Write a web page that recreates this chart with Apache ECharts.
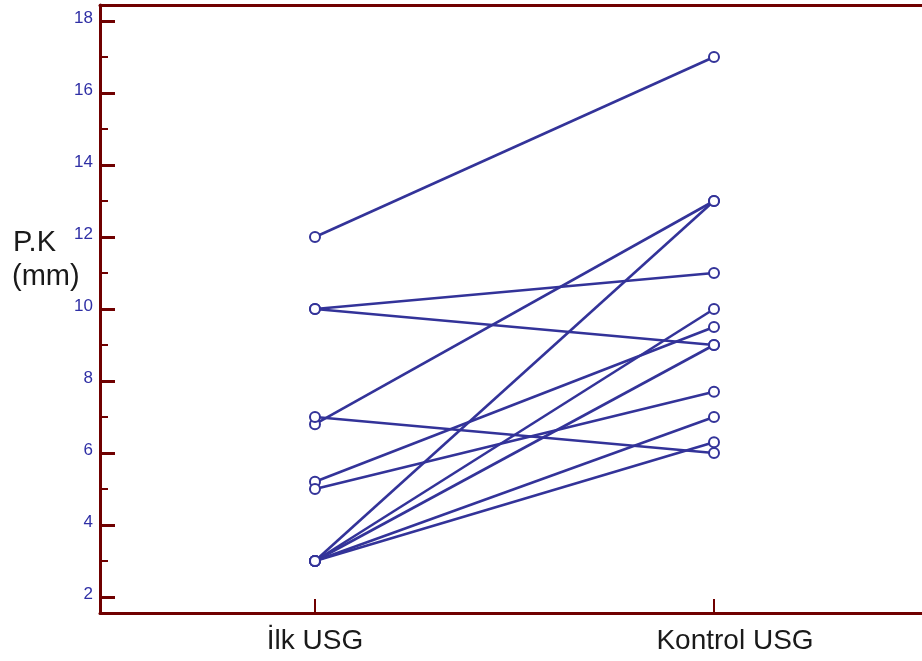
<!DOCTYPE html>
<html>
<head>
<meta charset="utf-8">
<script src="https://cdn.jsdelivr.net/npm/echarts@6/dist/echarts.min.js"></script>
<style>
  html, body { margin: 0; padding: 0; background: #fff; }
  #chart { width: 922px; height: 661px; }
</style>
</head>
<body>
<div id="chart"></div>
<script>
// Paired measurements: first scan vs. follow-up scan (mm)
const groups = ['İlk USG', 'Kontrol USG'];
const ilkUSG     = [12, 10, 10, 6.8, 7, 5.2, 5,   3,  3,  3, 3, 3];
const kontrolUSG = [17, 11,  9, 13,  6, 9.5, 7.7, 13, 10, 9, 7, 6.3];
const yMajorTicks = [2, 4, 6, 8, 10, 12, 14, 16, 18];
const yMinorTicks = [3, 5, 7, 9, 11, 13, 15, 17];

const frame = '#700000';
const ink = '#333399';
const font = '"Liberation Sans", Arial, sans-serif';

const series = ilkUSG.map((v, i) => ({
  type: 'line',
  data: [[0, v], [1, kontrolUSG[i]]],
  symbol: 'emptyCircle',
  symbolSize: 10,
  showSymbol: true,
  lineStyle: { color: ink, width: 2.6 },
  itemStyle: { color: ink, borderColor: ink, borderWidth: 1.5 },
  emphasis: { disabled: true },
  animation: false
}));

const X_MIN = -0.5388, X_MAX = 1.5213;
const Y_MIN = 1.556, Y_MAX = 18.444;

const chart = echarts.init(document.getElementById('chart'), null, { renderer: 'canvas' });
chart.setOption({
  animation: false,
  grid: { left: 100, right: 0, top: 5, bottom: 48 },
  xAxis: [{
    type: 'value',
    position: 'bottom',
    min: X_MIN, max: X_MAX,
    axisLine: { show: true, onZero: false, lineStyle: { color: frame, width: 3 } },
    axisTick: { show: true, inside: true, length: 14, customValues: [0, 1],
                lineStyle: { color: frame, width: 2 } },
    axisLabel: {
      customValues: [0, 1],
      margin: 14,
      formatter: v => v === 1 ? '{k|' + groups[1] + '}' : '{i|' + groups[0] + '}',
      rich: {
        i: { fontFamily: font, fontSize: 28, color: '#1a1a1a' },
        k: { fontFamily: font, fontSize: 28, color: '#1a1a1a', padding: [0, 0, 0, 42] }
      }
    },
    splitLine: { show: false }
  }, {
    // top edge of the frame
    type: 'value',
    position: 'top',
    min: X_MIN, max: X_MAX,
    axisLine: { show: true, onZero: false, lineStyle: { color: frame, width: 3 } },
    axisTick: { show: false },
    axisLabel: { show: false },
    splitLine: { show: false }
  }],
  yAxis: [{
    type: 'value',
    position: 'left',
    min: Y_MIN, max: Y_MAX,
    axisLine: { show: true, onZero: false, lineStyle: { color: frame, width: 3 } },
    axisTick: { show: true, inside: true, length: 15, customValues: yMajorTicks,
                lineStyle: { color: frame, width: 3 } },
    axisLabel: {
      customValues: yMajorTicks,
      margin: 7,
      formatter: v => '{t|' + v + '}',
      rich: {
        t: { color: '#2f2fa5', fontFamily: font, fontSize: 17, padding: [0, 0, 6, 0] }
      }
    },
    splitLine: { show: false }
  }, {
    // minor ticks on the odd values
    type: 'value',
    position: 'left',
    offset: 0,
    min: Y_MIN, max: Y_MAX,
    axisLine: { show: false, onZero: false },
    axisTick: { show: true, inside: true, length: 8, customValues: yMinorTicks,
                lineStyle: { color: frame, width: 2 } },
    axisLabel: { show: false },
    splitLine: { show: false }
  }],
  graphic: [{
    type: 'text', left: 13, top: 228,
    style: { text: 'P.K', font: '29px ' + font, fill: '#1a1a1a' }
  }, {
    type: 'text', left: 12, top: 262,
    style: { text: '(mm)', font: '29px ' + font, fill: '#1a1a1a' }
  }],
  series: series
});
</script>
</body>
</html>
